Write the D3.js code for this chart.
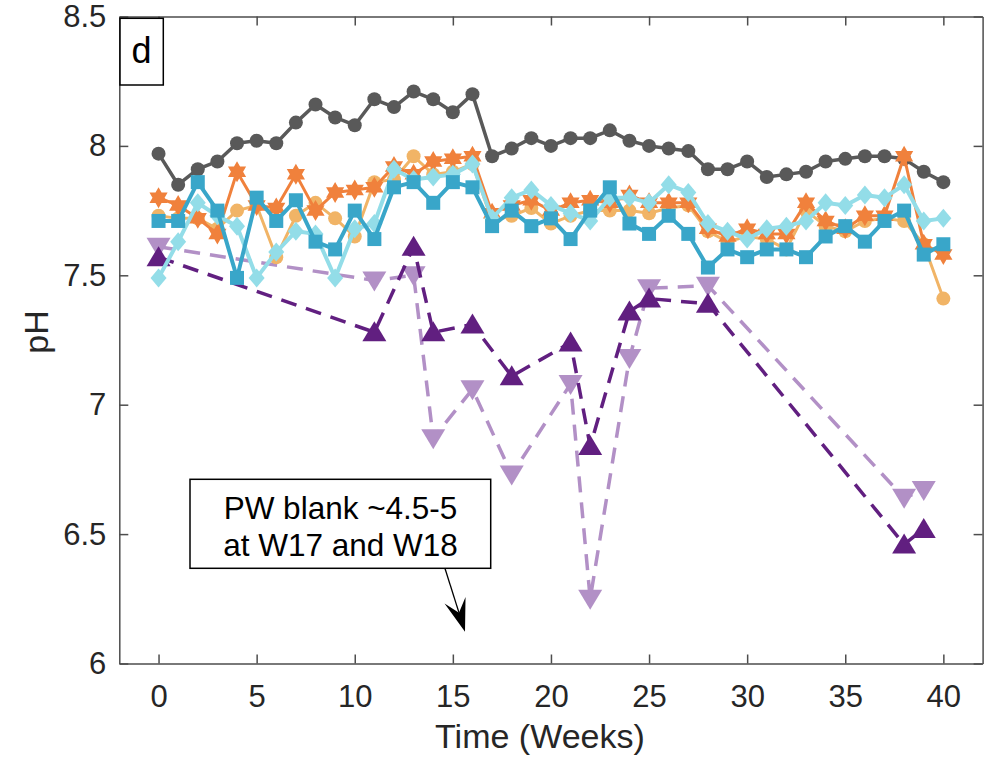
<!DOCTYPE html>
<html>
<head>
<meta charset="utf-8">
<script src="https://cdn.jsdelivr.net/npm/d3@7"></script>
<style>
  body { margin: 0; background: white; }
  text { font-family: "Liberation Sans", Arial, sans-serif; }
</style>
</head>
<body>
<script>
/* DATA */
var weeks = [0,1,2,3,4,5,6,7,8,9,10,11,12,13,14,15,16,17,18,19,20,
             21,22,23,24,25,26,27,28,29,30,31,32,33,34,35,36,37,38,39,40];

var grayPH = [7.97,7.85,7.91,7.94,8.01,8.02,8.01,8.09,8.16,8.11,8.08,8.18,8.15,8.21,8.18,8.13,8.20,
              7.96,7.99,8.03,8.00,8.03,8.03,8.06,8.02,8.00,7.99,7.98,7.91,7.91,7.94,7.88,7.89,7.90,
              7.94,7.95,7.96,7.96,7.95,7.90,7.86];
var circlePH = [7.73,7.72,7.72,7.68,7.75,7.77,7.57,7.73,7.78,7.72,7.65,7.86,7.87,7.96,7.89,7.90,7.93,
                7.71,7.73,7.76,7.70,7.73,7.75,7.75,7.75,7.74,7.76,7.77,7.67,7.63,7.65,7.64,7.60,7.75,
                7.69,7.67,7.71,7.72,7.71,7.62,7.41];
var starPH = [7.80,7.77,7.72,7.66,7.90,7.77,7.76,7.89,7.75,7.82,7.83,7.84,7.92,7.89,7.94,7.95,7.96,
              7.74,7.77,7.79,7.75,7.78,7.79,7.78,7.81,7.78,7.78,7.78,7.68,7.65,7.68,7.66,7.66,7.78,
              7.71,7.68,7.73,7.73,7.96,7.62,7.58];
var diamondPH = [7.49,7.63,7.78,7.73,7.69,7.49,7.59,7.67,7.66,7.49,7.68,7.70,7.91,7.87,7.88,7.89,7.93,
                 7.72,7.80,7.83,7.77,7.74,7.71,7.80,7.80,7.78,7.85,7.82,7.70,7.67,7.64,7.68,7.69,7.71,
                 7.78,7.77,7.81,7.80,7.85,7.71,7.72];
var squarePH = [7.71,7.71,7.86,7.75,7.49,7.80,7.71,7.79,7.63,7.60,7.75,7.64,7.84,7.86,7.78,7.86,7.84,
                7.69,7.75,7.69,7.72,7.64,7.75,7.84,7.70,7.66,7.73,7.66,7.53,7.60,7.57,7.60,7.60,7.57,
                7.65,7.69,7.63,7.71,7.75,7.58,7.62];

var pwWeeks = [0,11,13,14,16,18,21,22,24,25,28,38,39];
var darkPurplePH  = [7.57,7.28,7.61,7.28,7.31,7.11,7.24,6.84,7.36,7.41,7.39,6.46,6.52];
var lightPurplePH = [7.61,7.48,7.50,6.87,7.06,6.73,7.08,6.25,7.18,7.45,7.46,6.64,6.67];

var xTicks = [0,5,10,15,20,25,30,35,40];
var yTicks = [6,6.5,7,7.5,8,8.5];
var yTickLabels = ['6','6.5','7','7.5','8','8.5'];

/* SETUP */
var width = 984, height = 758;
var plotLeft = 119.3, plotRight = 982.6, plotTop = 16.5, plotBottom = 663.5;
var axisColor = '#4d4d4d', textColor = '#262626';

var x = d3.scaleLinear().domain([-2, 42]).range([plotLeft, plotRight]);
var y = d3.scaleLinear().domain([6, 8.5]).range([plotBottom, plotTop]);

var svg = d3.select('body').append('svg')
    .attr('width', width)
    .attr('height', height);

svg.append('rect').attr('width', width).attr('height', height).attr('fill', 'white');

// marker paths
var hexagram = function(R) {
    var pts = [];
    for (var i = 0; i < 12; i++) {
        var a = -Math.PI / 2 + i * Math.PI / 6;
        var r = i % 2 === 0 ? R : R / Math.sqrt(3);
        pts.push([r * Math.cos(a), r * Math.sin(a)]);
    }
    return 'M' + pts.join('L') + 'Z';
};
var diamond = function(w, h) { return `M0,${-h}L${w},0L0,${h}L${-w},0Z`; };
var square = function(s) { return `M${-s},${-s}H${s}V${s}H${-s}Z`; };
var triUp = function(w, h) { return `M0,${-h * 0.55}L${w},${h * 0.45}L${-w},${h * 0.45}Z`; };
var triDown = function(w, h) { return `M0,${h * 0.55}L${w},${-h * 0.45}L${-w},${-h * 0.45}Z`; };
var circle = function(r) { return `M${r},0A${r},${r} 0 1 1 ${-r},0A${r},${r} 0 1 1 ${r},0Z`; };

var series = [
    {xs: pwWeeks, ys: lightPurplePH, color: '#b290c6', width: 3.5, dash: '16,10', marker: triDown(12, 20)},
    {xs: pwWeeks, ys: darkPurplePH, color: '#611f80', width: 3.5, dash: '16,10', marker: triUp(12, 20)},
    {xs: weeks, ys: grayPH, color: '#595959', width: 3.5, dash: null, marker: circle(7)},
    {xs: weeks, ys: circlePH, color: '#f1b466', width: 3, dash: null, marker: circle(7)},
    {xs: weeks, ys: starPH, color: '#f0813c', width: 3, dash: null, marker: hexagram(10.5)},
    {xs: weeks, ys: diamondPH, color: '#93dde8', width: 4, dash: null, marker: diamond(8, 9.5)},
    {xs: weeks, ys: squarePH, color: '#39a6c9', width: 4, dash: null, marker: square(7)}
];

var line = d3.line().x(d => x(d[0])).y(d => y(d[1]));

var plot = svg.append('g');
series.forEach(function(s) {
    var pts = s.xs.map((w, i) => [w, s.ys[i]]);
    var g = plot.append('g');
    g.append('path')
        .attr('d', line(pts))
        .attr('fill', 'none')
        .attr('stroke', s.color)
        .attr('stroke-width', s.width)
        .attr('stroke-dasharray', s.dash)
        .attr('stroke-linejoin', 'round');
    g.selectAll('path.m').data(pts).enter().append('path')
        .attr('class', 'm')
        .attr('d', s.marker)
        .attr('transform', d => `translate(${x(d[0])},${y(d[1])})`)
        .attr('fill', s.color);
});

/* AXES (box, ticks inward) */
var styleAxis = function(g) {
    g.select('.domain').attr('stroke', axisColor).attr('stroke-width', 1.5);
    g.selectAll('.tick line').attr('stroke', axisColor).attr('stroke-width', 1.5);
    g.selectAll('.tick text').attr('fill', textColor).style('font-size', '31px')
        .style('font-family', '"Liberation Sans", Arial, sans-serif');
};

svg.append('g')
    .attr('transform', `translate(0,${plotBottom})`)
    .call(d3.axisBottom(x).tickValues(xTicks).tickSizeInner(-9).tickSizeOuter(0).tickPadding(21))
    .call(styleAxis);

svg.append('g')
    .attr('transform', `translate(0,${plotTop})`)
    .call(d3.axisTop(x).tickValues(xTicks).tickSizeInner(-9).tickSizeOuter(0).tickFormat(''))
    .call(styleAxis);

svg.append('g')
    .attr('transform', `translate(${plotLeft},0)`)
    .call(d3.axisLeft(y).tickValues(yTicks).tickSizeInner(-9).tickSizeOuter(0).tickPadding(13)
        .tickFormat((d, i) => yTickLabels[i]))
    .call(styleAxis);

svg.append('g')
    .attr('transform', `translate(${plotRight},0)`)
    .call(d3.axisRight(y).tickValues(yTicks).tickSizeInner(-9).tickSizeOuter(0).tickFormat(''))
    .call(styleAxis);

/* LABELS */
svg.append('text')
    .attr('x', (plotLeft + plotRight) / 2 - 11)
    .attr('y', 748)
    .attr('text-anchor', 'middle')
    .attr('fill', textColor)
    .style('font-size', '34px')
    .text('Time (Weeks)');

svg.append('text')
    .attr('transform', `translate(48,${(plotTop + plotBottom) / 2 - 8}) rotate(-90)`)
    .attr('text-anchor', 'middle')
    .attr('fill', textColor)
    .style('font-size', '34px')
    .text('pH');

// panel letter
svg.append('rect')
    .attr('x', 120).attr('y', 18.3).attr('width', 43.3).attr('height', 66.7)
    .attr('fill', 'white').attr('stroke', 'black').attr('stroke-width', 1.5);
svg.append('text')
    .attr('x', 141.6).attr('y', 63)
    .attr('text-anchor', 'middle')
    .attr('fill', 'black')
    .style('font-size', '36px')
    .text('d');

// annotation box + arrow
svg.append('rect')
    .attr('x', 190).attr('y', 479.3).attr('width', 300.7).attr('height', 89)
    .attr('fill', 'white').attr('stroke', 'black').attr('stroke-width', 1.5);
var noteLines = ['PW blank ~4.5-5', 'at W17 and W18'];
svg.selectAll('text.note').data(noteLines).enter().append('text')
    .attr('class', 'note')
    .attr('x', 340.5)
    .attr('y', (d, i) => 519 + i * 37)
    .attr('text-anchor', 'middle')
    .attr('fill', 'black')
    .style('font-size', '31.5px')
    .text(d => d);

var tail = [445, 568.5], tip = [465, 631.7];
var dx = tip[0] - tail[0], dy = tip[1] - tail[1], len = Math.hypot(dx, dy);
var ux = dx / len, uy = dy / len, nx = -uy, ny = ux;
svg.append('line')
    .attr('x1', tail[0]).attr('y1', tail[1])
    .attr('x2', tip[0] - 15 * ux).attr('y2', tip[1] - 15 * uy)
    .attr('stroke', 'black').attr('stroke-width', 1.3);
var head = [
    tip,
    [tip[0] - 33 * ux + 11 * nx, tip[1] - 33 * uy + 11 * ny],
    [tip[0] - 20 * ux, tip[1] - 20 * uy],
    [tip[0] - 33 * ux - 11 * nx, tip[1] - 33 * uy - 11 * ny]
];
svg.append('path')
    .attr('d', 'M' + head.join('L') + 'Z')
    .attr('fill', 'black');
</script>
</body>
</html>
